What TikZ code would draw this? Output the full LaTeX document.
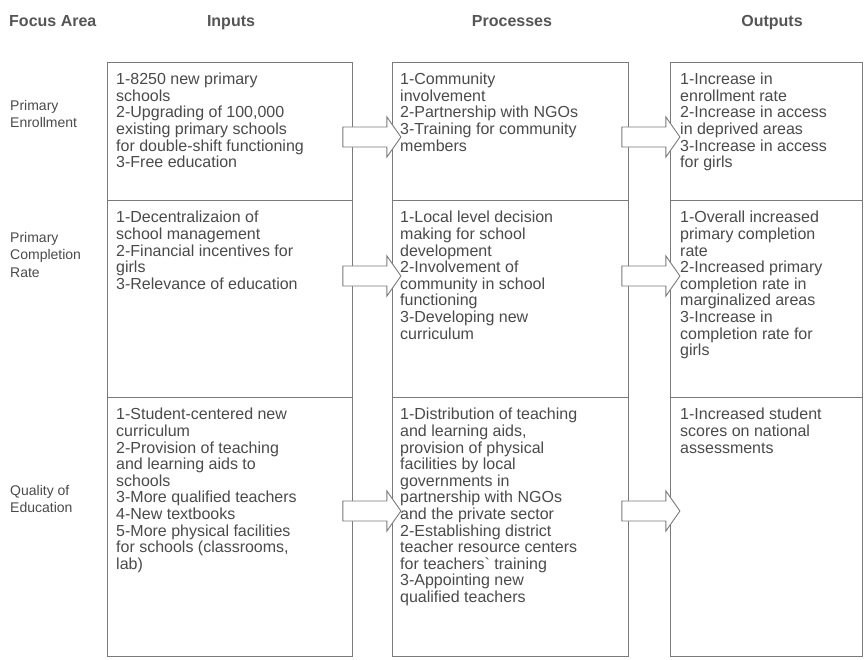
\documentclass[tikz,border=0pt]{standalone}
\usepackage{fontspec}
\setmainfont{Liberation Sans}
\usetikzlibrary{calc}
\definecolor{inkgray}{HTML}{4A4A4A}
\definecolor{headgray}{HTML}{555555}
\definecolor{rulegray}{HTML}{7A7A7A}
\tikzset{
  cellbox/.style={draw=rulegray, line width=0.9pt, anchor=north west,
    inner sep=0pt, minimum height=#1},
  inbox/.style={cellbox=#1, minimum width=245pt},
  procbox/.style={cellbox=#1, minimum width=236pt},
  outbox/.style={cellbox=#1, minimum width=192pt},
  celltext/.style={anchor=north west, align=left, inner sep=0pt,
    font=\fontsize{16}{16.6}\selectfont, text=inkgray},
  focuslabel/.style={anchor=north west, align=left, inner sep=0pt,
    font=\fontsize{14}{17.5}\selectfont, text=inkgray},
  headlabel/.style={inner sep=0pt, anchor=base, font=\fontsize{16}{18}\selectfont\bfseries,
    text=headgray},
  blockarr/.style={draw=rulegray, fill=white, line width=0.9pt, line join=miter},
  pics/blockarrow/.style={code={
    \draw[blockarr] (0,-10) -- (44,-10) -- (44,-20) -- (58,0)
      -- (44,20) -- (44,10) -- (0,10) -- cycle;}}
}

\begin{document}
\begin{tikzpicture}[x=1pt, y=-1pt]
    \useasboundingbox (0,0) rectangle (864,659);
    % column heads
    \node[headlabel, anchor=base west] (hfocus) at (9,26) {Focus Area};
    \node[headlabel] (hin) at (231,26) {Inputs};
    \node[headlabel] (hproc) at (512,26) {Processes};
    \node[headlabel] (hout) at (772,26) {Outputs};
    % cells
    \node[inbox=138pt] (in1) at (107,62) {};
    \node[inbox=197pt] (in2) at (107,200) {};
    \node[inbox=259pt] (in3) at (107,397) {};
    \node[procbox=138pt] (proc1) at (392,62) {};
    \node[procbox=197pt] (proc2) at (392,200) {};
    \node[procbox=259pt] (proc3) at (392,397) {};
    \node[outbox=138pt] (out1) at (670,62) {};
    \node[outbox=197pt] (out2) at (670,200) {};
    \node[outbox=259pt] (out3) at (670,397) {};
    % block arrows between columns
    \coordinate (r1) at (0,137);
    \coordinate (r2) at (0,276);
    \coordinate (r3) at (0,511);
    \foreach \r in {1,2,3} {
      \path ([xshift=-10pt]in\r.east |- r\r) pic {blockarrow};
      \path ([xshift=-7pt]proc\r.east |- r\r) pic {blockarrow};
    }
    % focus areas
    \node[focuslabel] (f1) at (10,100) {Primary\\Enrollment};
    \node[focuslabel] (f2) at (10,232) {Primary\\Completion\\Rate};
    \node[focuslabel] (f3) at (10,485) {Quality of\\Education};
    % texts
    \node[celltext] (tin1) at ([xshift=9pt, yshift=-11pt]in1.north west)
      {1-8250 new primary\\schools\\2-Upgrading of 100,000\\existing primary schools\\for double-shift functioning\\3-Free education};
    \node[celltext] (tin2) at ([xshift=9pt, yshift=-11pt]in2.north west)
      {1-Decentralizaion of\\school management\\2-Financial incentives for\\girls\\3-Relevance of education};
    \node[celltext] (tin3) at ([xshift=9pt, yshift=-11pt]in3.north west)
      {1-Student-centered new\\curriculum\\2-Provision of teaching\\and learning aids to\\schools\\3-More qualified teachers\\4-New textbooks\\5-More physical facilities\\for schools (classrooms,\\lab)};
    \node[celltext] (tproc1) at ([xshift=8pt, yshift=-11pt]proc1.north west)
      {1-Community\\involvement\\2-Partnership with NGOs\\3-Training for community\\members};
    \node[celltext] (tproc2) at ([xshift=8pt, yshift=-11pt]proc2.north west)
      {1-Local level decision\\making for school\\development\\2-Involvement of\\community in school\\functioning\\3-Developing new\\curriculum};
    \node[celltext] (tproc3) at ([xshift=8pt, yshift=-11pt]proc3.north west)
      {1-Distribution of teaching\\and learning aids,\\provision of physical\\facilities by local\\governments in\\partnership with NGOs\\and the private sector\\2-Establishing district\\teacher resource centers\\for teachers\textasciigrave{} training\\3-Appointing new\\qualified teachers};
    \node[celltext] (tout1) at ([xshift=10pt, yshift=-11pt]out1.north west)
      {1-Increase in\\enrollment rate\\2-Increase in access\\in deprived areas\\3-Increase in access\\for girls};
    \node[celltext] (tout2) at ([xshift=10pt, yshift=-11pt]out2.north west)
      {1-Overall increased\\primary completion\\rate\\2-Increased primary\\completion rate in\\marginalized areas\\3-Increase in\\completion rate for\\girls};
    \node[celltext] (tout3) at ([xshift=10pt, yshift=-11pt]out3.north west)
      {1-Increased student\\scores on national\\assessments};
\end{tikzpicture}
\end{document}
